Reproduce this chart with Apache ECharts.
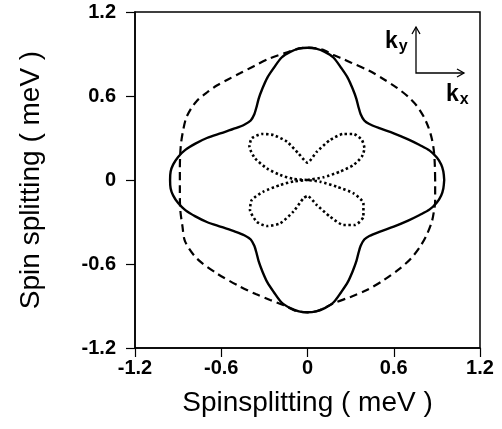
<!DOCTYPE html>
<html>
<head>
<meta charset="utf-8">
<script src="https://cdn.jsdelivr.net/npm/echarts@6/dist/echarts.min.js"></script>
<style>
  html, body { margin: 0; padding: 0; background: #fff; }
  #chart { width: 502px; height: 429px; }
</style>
</head>
<body>
<div id="chart"></div>
<script>
// axis ticks (meV)
const axisTicks = [-1.2, -0.6, 0, 0.6, 1.2]

// solid curve, counter-clockwise from +x
const solidCurve = [
  [0.951, 0], [0.945, 0.06], [0.93, 0.11], [0.9, 0.16], [0.85, 0.21], [0.78, 0.25], [0.7, 0.29],
  [0.6, 0.333], [0.5, 0.37], [0.43, 0.4], [0.395, 0.425], [0.37, 0.47], [0.355, 0.52], [0.34, 0.58],
  [0.315, 0.65], [0.28, 0.73], [0.235, 0.8], [0.18, 0.875], [0.12, 0.915], [0.06, 0.938], [0, 0.945],
  [-0.06, 0.938], [-0.12, 0.915], [-0.18, 0.875], [-0.235, 0.8], [-0.28, 0.73], [-0.315, 0.65],
  [-0.34, 0.58], [-0.355, 0.52], [-0.37, 0.47], [-0.395, 0.425], [-0.44, 0.395], [-0.5, 0.37],
  [-0.6, 0.335], [-0.7, 0.3], [-0.78, 0.26], [-0.85, 0.215], [-0.9, 0.165], [-0.935, 0.11],
  [-0.952, 0.06], [-0.956, 0],
  [-0.952, -0.06], [-0.935, -0.11], [-0.9, -0.165], [-0.85, -0.215], [-0.78, -0.26], [-0.7, -0.3],
  [-0.6, -0.335], [-0.5, -0.37], [-0.44, -0.395], [-0.395, -0.425], [-0.37, -0.47], [-0.355, -0.52],
  [-0.34, -0.58], [-0.315, -0.65], [-0.28, -0.73], [-0.235, -0.8], [-0.18, -0.875], [-0.12, -0.915],
  [-0.06, -0.938], [0, -0.945],
  [0.06, -0.938], [0.12, -0.915], [0.18, -0.875], [0.235, -0.8], [0.28, -0.73], [0.315, -0.65],
  [0.34, -0.58], [0.355, -0.52], [0.37, -0.47], [0.395, -0.425], [0.43, -0.4], [0.5, -0.37],
  [0.6, -0.333], [0.7, -0.29], [0.78, -0.25], [0.85, -0.21], [0.9, -0.16], [0.93, -0.11],
  [0.945, -0.06], [0.951, 0]
]

// dashed curve
const dashedCurve = [
  [0.888, 0], [0.886, 0.1], [0.88, 0.2], [0.866, 0.29], [0.84, 0.38], [0.807, 0.455], [0.76, 0.53],
  [0.7, 0.595], [0.62, 0.66], [0.53, 0.72], [0.43, 0.78], [0.3, 0.84], [0.24, 0.868], [0.18, 0.892],
  [0.12, 0.925], [0.06, 0.94], [0, 0.945],
  [-0.06, 0.94], [-0.14, 0.912], [-0.26, 0.87], [-0.37, 0.815], [-0.47, 0.762], [-0.55, 0.72],
  [-0.631, 0.675], [-0.7, 0.625], [-0.77, 0.565], [-0.81, 0.51], [-0.845, 0.44], [-0.866, 0.35],
  [-0.88, 0.26], [-0.886, 0.17], [-0.888, 0.08], [-0.888, 0],
  [-0.888, -0.08], [-0.886, -0.2], [-0.87, -0.33], [-0.851, -0.44], [-0.77, -0.56], [-0.631, -0.667],
  [-0.469, -0.762], [-0.36, -0.815], [-0.26, -0.857], [-0.168, -0.893], [-0.08, -0.935], [0, -0.945],
  [0.08, -0.932], [0.18, -0.881], [0.3, -0.835], [0.413, -0.786], [0.53, -0.715], [0.644, -0.631],
  [0.72, -0.56], [0.783, -0.476], [0.83, -0.39], [0.865, -0.298], [0.88, -0.22], [0.888, -0.155],
  [0.888, 0]
]

// dotted butterfly
const dottedCurve = [
  [0, 0], [0.11, 0.019], [0.227, 0.06], [0.32, 0.107], [0.378, 0.167], [0.396, 0.226], [0.378, 0.286],
  [0.32, 0.329], [0.25, 0.329], [0.157, 0.286], [0.065, 0.202], [0, 0.124],
  [-0.063, 0.19], [-0.144, 0.274], [-0.237, 0.321], [-0.318, 0.329], [-0.388, 0.298], [-0.404, 0.238],
  [-0.365, 0.155], [-0.283, 0.083], [-0.191, 0.036], [-0.098, 0.007], [0, 0],
  [0.088, -0.012], [0.204, -0.048], [0.32, -0.095], [0.389, -0.167], [0.389, -0.262], [0.33, -0.321],
  [0.25, -0.321], [0.157, -0.262], [0.065, -0.179], [0, -0.114],
  [-0.029, -0.131], [-0.098, -0.226], [-0.191, -0.31], [-0.283, -0.329], [-0.353, -0.298],
  [-0.4, -0.214], [-0.388, -0.143], [-0.307, -0.083], [-0.191, -0.036], [-0.098, -0.01], [0, 0]
]

const fontFamily = '"Liberation Sans", Arial, sans-serif'

function tickLabel(v) {
  return String(Math.round(v * 10) / 10)
}

let myChart = echarts.init(document.getElementById('chart'))
let axisCommon = {
  type: 'value',
  min: axisTicks[0],
  max: axisTicks[axisTicks.length - 1],
  interval: axisTicks[1] - axisTicks[0],
  nameLocation: 'middle',
  nameTextStyle: { color: '#000', fontSize: 28, fontFamily: fontFamily },
  axisLine: { show: true, onZero: false, lineStyle: { color: '#000', width: 1.5 } },
  axisTick: { show: true, inside: false, length: 9, lineStyle: { color: '#000', width: 1.2 } },
  splitLine: { show: false },
  axisLabel: {
    color: '#000',
    fontSize: 20,
    fontWeight: 'bold',
    fontFamily: fontFamily,
    formatter: tickLabel
  }
}

let option = {
  animation: false,
  backgroundColor: '#fff',
  grid: {
    left: 135,
    right: 22,
    top: 12,
    bottom: 81,
    show: true,
    borderColor: '#000',
    borderWidth: 1.5
  },
  xAxis: Object.assign({}, axisCommon, {
    name: 'Spinsplitting ( meV )',
    nameGap: 41,
    axisLabel: Object.assign({}, axisCommon.axisLabel, { margin: 10 })
  }),
  yAxis: Object.assign({}, axisCommon, {
    name: 'Spin splitting ( meV )',
    nameGap: 90,
    axisLabel: Object.assign({}, axisCommon.axisLabel, { margin: 19 })
  }),
  series: [
    {
      name: 'solid',
      type: 'line',
      data: solidCurve,
      symbol: 'none',
      smooth: 0.3,
      lineStyle: { color: '#000', width: 2.4 }
    },
    {
      name: 'dashed',
      type: 'line',
      data: dashedCurve,
      symbol: 'none',
      smooth: 0.3,
      lineStyle: { color: '#000', width: 2.2, type: [8, 5] }
    },
    {
      name: 'dotted',
      type: 'line',
      data: dottedCurve,
      symbol: 'none',
      smooth: 0.2,
      lineStyle: { color: '#000', width: 2.6, type: [2.4, 2.6] }
    }
  ],
  graphic: [
    // k-space direction sketch
    { type: 'polyline', shape: { points: [[416, 27], [416, 73], [464, 73]] }, style: { stroke: '#000', lineWidth: 1.3, fill: null } },
    { type: 'polyline', shape: { points: [[412, 34], [416, 27], [420, 34]] }, style: { stroke: '#000', lineWidth: 1.3, fill: null } },
    { type: 'polyline', shape: { points: [[457, 69], [464, 73], [457, 77]] }, style: { stroke: '#000', lineWidth: 1.3, fill: null } },
    {
      type: 'text', left: 385, top: 30,
      style: {
        text: '{k|k}{s|y}',
        rich: {
          k: { fontSize: 23, fontWeight: 'bold', fontFamily: fontFamily, fill: '#000' },
          s: { fontSize: 16, fontWeight: 'bold', fontFamily: fontFamily, fill: '#000', padding: [10, 0, 0, 1] }
        }
      }
    },
    {
      type: 'text', left: 446, top: 83,
      style: {
        text: '{k|k}{s|x}',
        rich: {
          k: { fontSize: 23, fontWeight: 'bold', fontFamily: fontFamily, fill: '#000' },
          s: { fontSize: 16, fontWeight: 'bold', fontFamily: fontFamily, fill: '#000', padding: [10, 0, 0, 1] }
        }
      }
    }
  ]
}

option && myChart.setOption(option)
</script>
</body>
</html>
